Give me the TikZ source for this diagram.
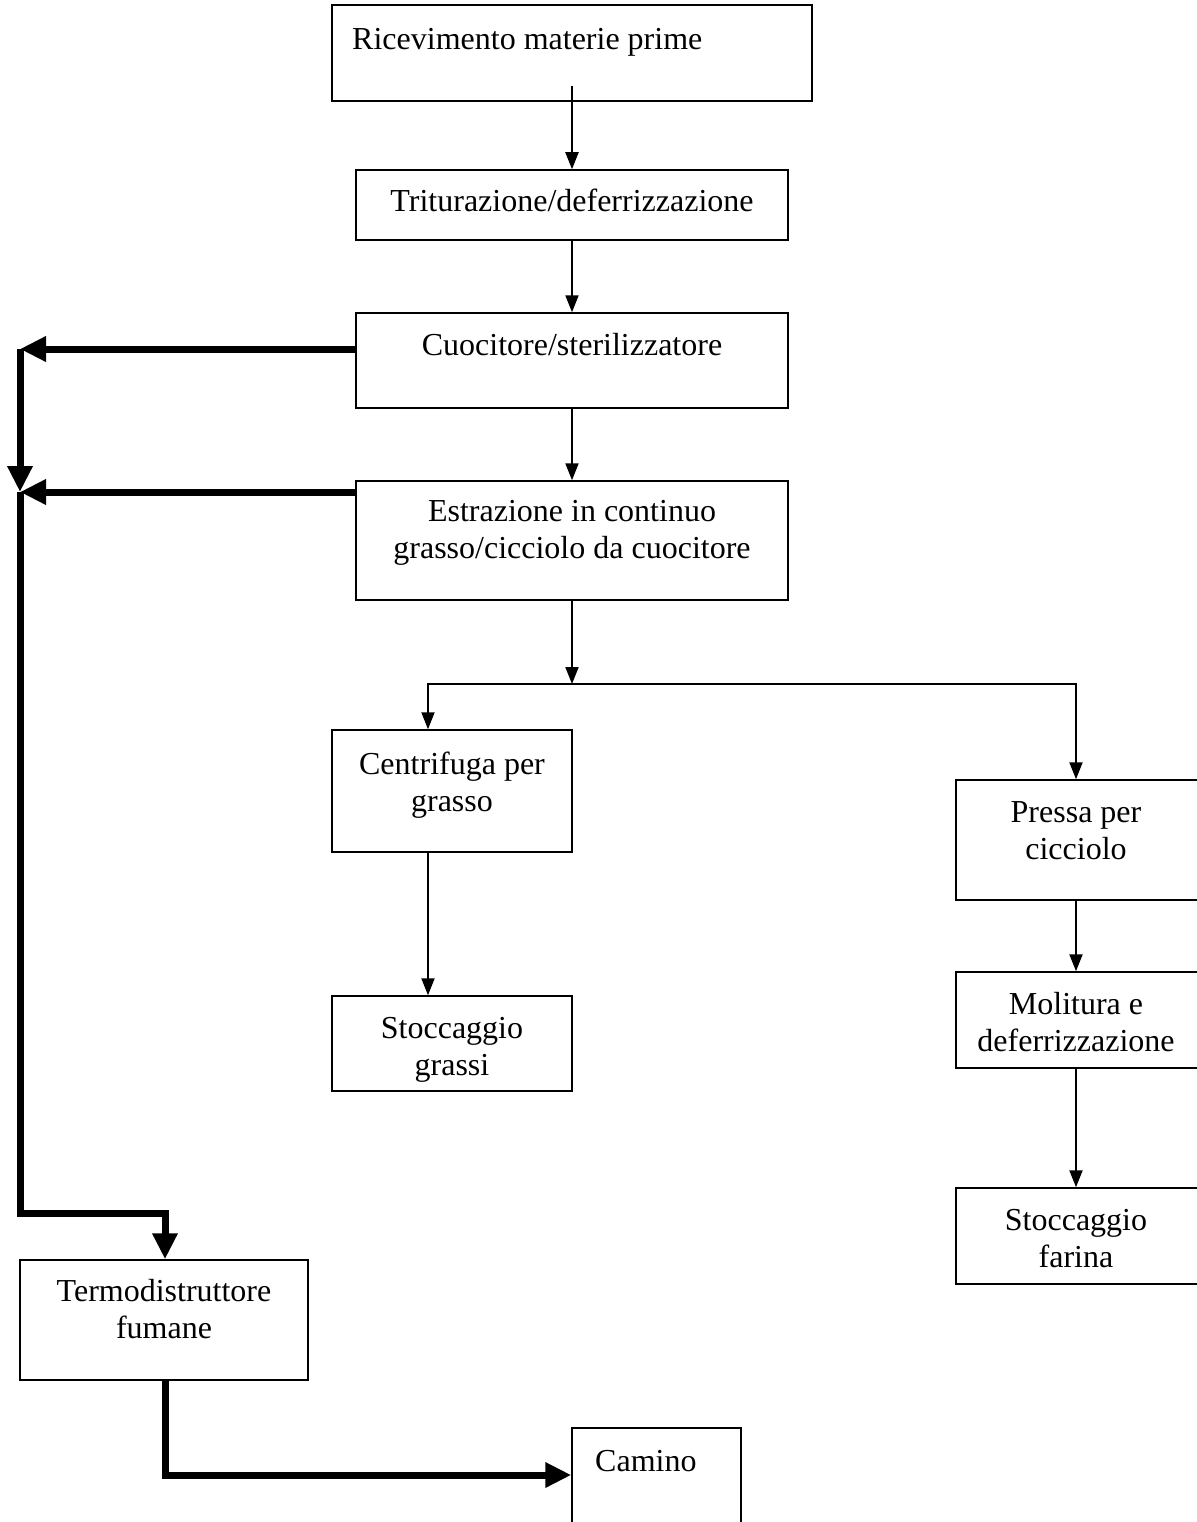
\documentclass[tikz,border=0pt]{standalone}
\usepackage{fontspec}
\setmainfont{Liberation Serif}
\usetikzlibrary{arrows.meta}
\begin{document}
\begin{tikzpicture}[x=1pt,y=-1pt,
  box/.style={draw,line width=1.5pt,inner sep=0pt},
  lbl/.style={font=\fontsize{32}{37}\selectfont,inner sep=0pt,align=center},
  thinarr/.style={line width=2pt,line join=miter,-{Triangle[width=13pt,length=17pt]}},
  thickarr/.style={line width=7pt,line join=miter,-{Triangle[width=24pt,length=26pt]}}]
\useasboundingbox (0,0) rectangle (1196,1522);
% boxes
\node[box,minimum width=480pt,minimum height=96pt] (ric) at (572,53) {};
\node[box,minimum width=432pt,minimum height=70pt] (trit) at (572,205) {};
\node[box,minimum width=432pt,minimum height=95pt] (cuoc) at (572,360.5) {};
\node[box,minimum width=432pt,minimum height=119pt] (estr) at (572,540.5) {};
\node[box,minimum width=240pt,minimum height=122pt] (centr) at (452,791) {};
\node[box,minimum width=240pt,minimum height=95pt] (stocg) at (452,1043.5) {};
\node[box,minimum width=260pt,minimum height=120pt] (pressa) at (1086,840) {};
\node[box,minimum width=260pt,minimum height=96pt] (molit) at (1086,1020) {};
\node[box,minimum width=260pt,minimum height=96pt] (stocf) at (1086,1236) {};
\node[box,minimum width=288pt,minimum height=120pt] (termo) at (164,1320) {};
\node[box,minimum width=169pt,minimum height=112pt] (camino) at (656.5,1484) {};
% labels
\node[lbl,anchor=base west] (tric) at (352,50) {Ricevimento materie prime};
\node[lbl] (ttrit) at (572,204.6) {\strut Triturazione/deferrizzazione};
\node[lbl] (tcuoc) at (572,347.6) {\strut Cuocitore/sterilizzatore};
\node[lbl] (testr) at (572,532.6) {\strut Estrazione in continuo\\\strut grasso/cicciolo da cuocitore};
\node[lbl] (tcentr) at (452,785.6) {\strut Centrifuga per\\\strut grasso};
\node[lbl] (tstocg) at (452,1049.6) {\strut Stoccaggio\\\strut grassi};
\node[lbl] (tpressa) at (1076,833.5) {\strut Pressa per\\\strut cicciolo};
\node[lbl] (tmolit) at (1076,1025.5) {\strut Molitura e\\\strut deferrizzazione};
\node[lbl] (tstocf) at (1076,1241.5) {\strut Stoccaggio\\\strut farina};
\node[lbl] (ttermo) at (164,1313) {\strut Termodistruttore\\\strut fumane};
\node[lbl,anchor=base west] (tcamino) at (595,1471) {Camino};
% thin connectors
\draw[thinarr] ([yshift=16pt]ric.south) -- (trit.north);
\draw[thinarr] (trit.south) -- (cuoc.north);
\draw[thinarr] (cuoc.south) -- (estr.north);
\coordinate (split) at (572,684);
\coordinate (sl) at (428,684);
\coordinate (sr) at (1076,684);
\draw[thinarr] (estr.south) -- (split);
\draw[thinarr] (sr) -- (sl) -- (sl |- centr.north);
\draw[thinarr] (sl) -- (sr) -- (sr |- pressa.north);
\draw[thinarr] (sl |- centr.south) -- (sl |- stocg.north);
\draw[thinarr] (sr |- pressa.south) -- (sr |- molit.north);
\draw[thinarr] (sr |- molit.south) -- (sr |- stocf.north);
% thick connectors
\coordinate (L1) at (20,349);
\coordinate (L2) at (20,492);
\coordinate (L3) at (20,1213);
\coordinate (L4) at (165,1213);
\coordinate (B1) at (165,1475);
\draw[thickarr] (cuoc.west |- L1) -- (L1);
\draw[thickarr] (estr.west |- L2) -- (L2);
\draw[thickarr] (L1) -- (L2);
\draw[thickarr] (L2) -- (L3) -- (L4) -- (termo.north -| L4);
\draw[thickarr] (termo.south -| B1) -- (B1) -- (camino.west |- B1);
\end{tikzpicture}
\end{document}
